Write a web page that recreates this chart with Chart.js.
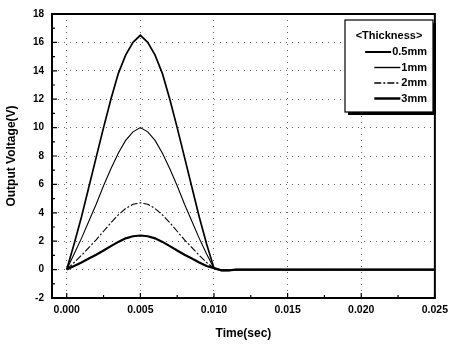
<!DOCTYPE html>
<html>
<head>
<meta charset="utf-8">
<script src="https://cdn.jsdelivr.net/npm/chart.js@4/dist/chart.umd.min.js"></script>
<style>
  html, body { margin: 0; padding: 0; background: #fff; }
  #wrap { width: 454px; height: 345px; }
</style>
</head>
<body>
<div id="wrap"><canvas id="chart" width="454" height="345"></canvas></div>
<script>
// time samples (s)
const timeSec = [0, 0.0005, 0.001, 0.0015, 0.002, 0.0025, 0.003, 0.0035, 0.004, 0.0045, 0.005,
  0.0055, 0.006, 0.0065, 0.007, 0.0075, 0.008, 0.0085, 0.009, 0.0095, 0.010,
  0.0105, 0.011, 0.0115, 0.015, 0.020, 0.025];
// output voltage (V) for each thickness
const volt05 = [0, 1.8, 3.7, 5.8, 7.9, 10.0, 12.0, 13.8, 15.1, 16.0, 16.5,
  16.0, 15.1, 13.8, 12.0, 10.0, 7.9, 5.8, 3.7, 1.8, 0.1, -0.05, -0.05, 0, 0, 0, 0];
const volt1 = [0, 1.1, 2.2, 3.4, 4.6, 5.9, 7.1, 8.2, 9.1, 9.7, 10.0,
  9.7, 9.1, 8.2, 7.1, 5.9, 4.6, 3.4, 2.2, 1.1, 0.1, -0.05, -0.05, 0, 0, 0, 0];
const volt2 = [0, 0.5, 1.0, 1.55, 2.1, 2.7, 3.3, 3.85, 4.3, 4.6, 4.7,
  4.6, 4.3, 3.85, 3.3, 2.7, 2.1, 1.55, 1.0, 0.5, 0.1, -0.05, -0.05, 0, 0, 0, 0];
const volt3 = [0, 0.25, 0.5, 0.78, 1.05, 1.35, 1.65, 1.95, 2.2, 2.35, 2.4,
  2.35, 2.2, 1.95, 1.65, 1.35, 1.05, 0.78, 0.5, 0.25, 0.1, -0.05, -0.05, 0, 0, 0, 0];
const seriesLabels = ['0.5mm', '1mm', '2mm', '3mm'];
const legendTitle = '<Thickness>';
const xTicks = [0, 0.005, 0.010, 0.015, 0.020, 0.025];
const yTicks = [-2, 0, 2, 4, 6, 8, 10, 12, 14, 16, 18];

const FONT = 'Liberation Sans, Arial, sans-serif';

function toPoints(ys) {
  return ys.map((y, i) => ({ x: timeSec[i], y: y }));
}

const styles = [
  { width: 1.7, dash: [] },
  { width: 1.1, dash: [] },
  { width: 1.1, dash: [7, 2, 2, 2] },
  { width: 2.2, dash: [] },
];

const datasets = [volt05, volt1, volt2, volt3].map((ys, i) => ({
  label: seriesLabels[i],
  data: toPoints(ys),
  borderColor: '#000',
  borderWidth: styles[i].width,
  borderDash: styles[i].dash,
  pointRadius: 0,
  tension: 0,
  fill: false,
}));

// box frame, inward ticks and boxed legend with drop shadow
const framePlugin = {
  id: 'frame',
  afterDraw(chart) {
    const ctx = chart.ctx;
    const a = chart.chartArea;
    const xs = chart.scales.x;
    const ys = chart.scales.y;
    ctx.save();
    ctx.strokeStyle = '#000';
    ctx.setLineDash([]);

    // inward tick marks on bottom and left
    ctx.lineWidth = 1.2;
    ctx.beginPath();
    for (let i = 0; i < xTicks.length; i++) {
      const px = xs.getPixelForValue(xTicks[i]);
      ctx.moveTo(px, a.bottom);
      ctx.lineTo(px, a.bottom - 5);
      if (i < xTicks.length - 1) {
        const pm = xs.getPixelForValue((xTicks[i] + xTicks[i + 1]) / 2);
        ctx.moveTo(pm, a.bottom);
        ctx.lineTo(pm, a.bottom - 3);
      }
    }
    for (let i = 0; i < yTicks.length; i++) {
      const py = ys.getPixelForValue(yTicks[i]);
      ctx.moveTo(a.left, py);
      ctx.lineTo(a.left + 5, py);
      if (i < yTicks.length - 1) {
        const pm = ys.getPixelForValue((yTicks[i] + yTicks[i + 1]) / 2);
        ctx.moveTo(a.left, pm);
        ctx.lineTo(a.left + 3, pm);
      }
    }
    ctx.stroke();

    ctx.lineWidth = 2;
    ctx.strokeRect(a.left, a.top, a.right - a.left, a.bottom - a.top);

    // legend box
    const bx = 345, by = 20, bw = 88, bh = 92;
    ctx.fillStyle = '#000';
    ctx.fillRect(bx + 3, by + 3, bw, bh);
    ctx.fillStyle = '#fff';
    ctx.fillRect(bx, by, bw, bh);
    ctx.lineWidth = 1.2;
    ctx.strokeRect(bx, by, bw, bh);

    ctx.fillStyle = '#000';
    ctx.font = 'bold 11px ' + FONT;
    ctx.textAlign = 'center';
    ctx.textBaseline = 'middle';
    ctx.fillText(legendTitle, bx + bw / 2, by + 16);

    ctx.textAlign = 'right';
    ctx.font = 'bold 11px ' + FONT;
    chart.data.datasets.forEach((ds, i) => {
      const yy = by + 32 + i * 15.5;
      const textRight = bx + bw - 6;
      const tw = ctx.measureText(ds.label).width;
      ctx.fillText(ds.label, textRight, yy);
      ctx.beginPath();
      ctx.lineWidth = ds.borderWidth + 0.3;
      ctx.setLineDash(ds.borderDash || []);
      ctx.moveTo(textRight - tw - 27, yy);
      ctx.lineTo(textRight - tw - 1, yy);
      ctx.stroke();
    });
    ctx.restore();
  },
};

new Chart(document.getElementById('chart'), {
  type: 'line',
  data: { datasets: datasets },
  options: {
    responsive: false,
    animation: false,
    layout: { padding: { left: 0, top: 12, right: 17, bottom: 0 } },
    plugins: { legend: { display: false }, tooltip: { enabled: false } },
    scales: {
      x: {
        type: 'linear',
        min: -0.001,
        max: 0.025,
        afterBuildTicks: (scale) => { scale.ticks = xTicks.map((v) => ({ value: v })); },
        afterFit: (scale) => { scale.height = 47; },
        grid: { color: '#666', lineWidth: 1, drawTicks: false },
        border: { display: false, dash: [1, 5] },
        ticks: {
          color: '#000',
          padding: 6,
          maxRotation: 0,
          font: { family: FONT, size: 10.5, weight: 'bold' },
          callback: (v) => Number(v).toFixed(3),
        },
        title: {
          display: true,
          text: 'Time(sec)',
          color: '#000',
          padding: { top: 3 },
          font: { family: FONT, size: 12, weight: 'bold' },
        },
      },
      y: {
        min: -2,
        max: 18,
        afterBuildTicks: (scale) => { scale.ticks = yTicks.map((v) => ({ value: v })); },
        afterFit: (scale) => { scale.width = 52; },
        grid: { color: '#666', lineWidth: 1, drawTicks: false },
        border: { display: false, dash: [1, 5] },
        ticks: {
          color: '#000',
          padding: 8,
          font: { family: FONT, size: 10, weight: 'bold' },
        },
        title: {
          display: true,
          text: 'Output Voltage(V)',
          color: '#000',
          padding: { bottom: 1 },
          font: { family: FONT, size: 12, weight: 'bold' },
        },
      },
    },
  },
  plugins: [framePlugin],
});
</script>
</body>
</html>
